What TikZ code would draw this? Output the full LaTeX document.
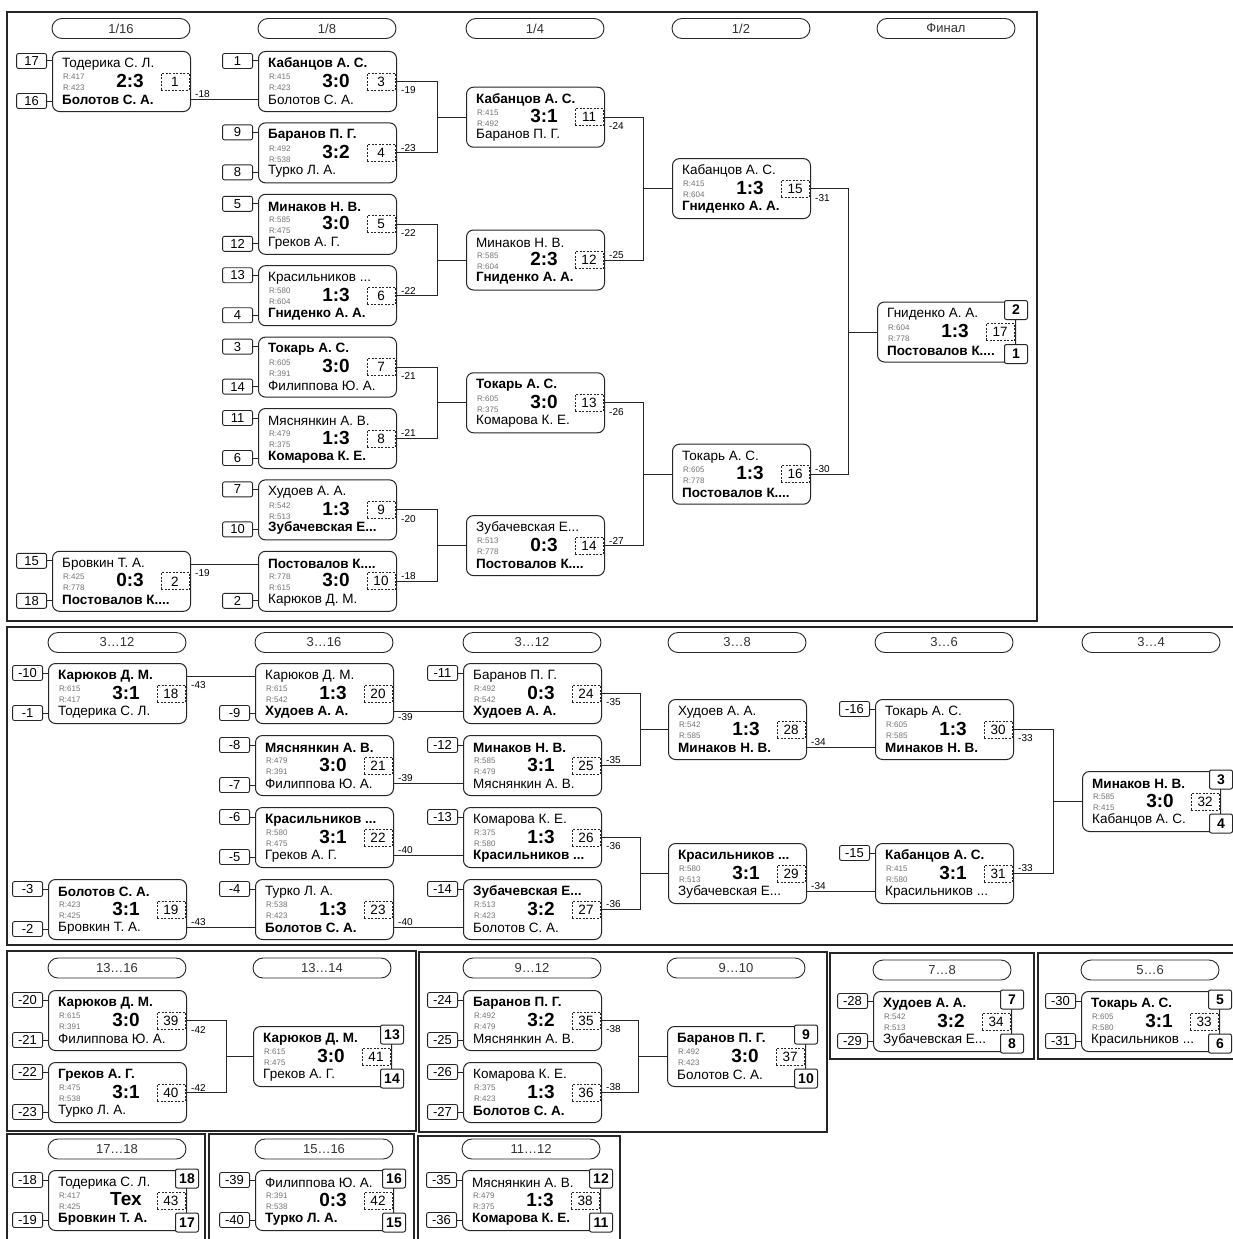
\documentclass[tikz,border=0pt]{standalone}
\usepackage{fontspec}
\setmainfont{Liberation Sans}
\definecolor{ln}{gray}{0.15}
\definecolor{rt}{gray}{0.45}
\tikzset{
 mbox/.style={draw=ln, line width=1pt, rounded corners=7pt, minimum width=138pt, minimum height=60pt, inner sep=0pt, anchor=north west, fill=white},
 nm/.style={anchor=west, inner sep=0pt, font=\fontsize{13.5}{14}\selectfont},
 rtx/.style={anchor=west, inner sep=0pt, font=\fontsize{8}{8}\selectfont, text=rt},
 sc/.style={inner sep=0pt, font=\fontsize{19}{19}\selectfont\bfseries},
 nbox/.style={draw=ln, dash pattern=on 2pt off 1.5pt, line width=0.9pt, minimum width=28pt, minimum height=17pt, inner sep=0pt, font=\fontsize{13.5}{13.5}\selectfont},
 seedbox/.style={draw=ln, line width=0.9pt, rounded corners=2pt, minimum width=30pt, minimum height=15pt, inner sep=0pt, font=\fontsize{13}{13}\selectfont, fill=white},
 placebox/.style={draw=ln, line width=1pt, rounded corners=2pt, minimum width=23pt, minimum height=19pt, inner sep=0pt, font=\fontsize{14}{14}\selectfont\bfseries, fill=white},
 pill/.style={draw=ln, line width=0.9pt, rounded corners=10pt, minimum width=138pt, minimum height=20pt, inner sep=0pt, font=\fontsize{13}{13}\selectfont, text=black!80},
 lbl/.style={anchor=west, inner sep=0pt, font=\fontsize{10}{10}\selectfont},
 conn/.style={draw=ln, line width=1pt},
 frm/.style={draw=ln, line width=1.2pt},
}
\newcommand\bn[1]{\textbf{#1}}
% id, x, y, topname, r1, score, r2, botname, number
\newcommand\Match[9]{%
 \node[mbox] (#1) at (#2,#3) {};
 \node[nm] (#1-a) at ([xshift=10pt,yshift=-13pt]#1.north west) {#4};
 \node[rtx] (#1-r) at ([xshift=11pt,yshift=-26pt]#1.north west) {R:#5};
 \node[sc] (#1-s) at ([xshift=78pt,yshift=-29.5pt]#1.north west) {#6};
 \node[rtx] (#1-q) at ([xshift=11pt,yshift=-37pt]#1.north west) {R:#7};
 \node[nm] (#1-b) at ([xshift=10pt,yshift=-49pt]#1.north west) {#8};
 \node[nbox] (#1-n) at ([xshift=-16pt]#1.east) {#9};
}
\newcommand\Places[3]{%
 \node[placebox] (#1-pa) at ([yshift=-8.5pt]#1.north east) {#2};
 \node[placebox] (#1-pb) at ([yshift=8.5pt]#1.south east) {#3};
}
\newcommand\SeedT[2]{%
 \node[seedbox, anchor=east] (#1-st) at ([xshift=-5pt,yshift=-10pt]#1.north west) {#2};
 \draw[conn] (#1-st.east) -- (#1-st.east -| #1.west);
}
\newcommand\SeedB[2]{%
 \node[seedbox, anchor=east] (#1-sb) at ([xshift=-5pt,yshift=11pt]#1.south west) {#2};
 \draw[conn] (#1-sb.east) -- (#1-sb.east -| #1.west);
}
% upper, lower, target, junction x
\newcommand\Bracket[4]{%
 \coordinate (#3-j) at (#4,0);
 \draw[conn] (#1.east) -| (#3-j |- #3.west) -- (#3.west);
 \draw[conn] (#2.east) -| (#3-j |- #3.west);
}
\newcommand\StraightB[2]{\draw[conn] ([yshift=-18pt]#1.east) -- ([yshift=-18pt]#1.east -| #2.west);}
\newcommand\StraightT[2]{\draw[conn] ([yshift=17pt]#1.east) -- ([yshift=17pt]#1.east -| #2.west);}
\newcommand\Lbl[3]{\node[lbl] (#1-l) at ([xshift=4pt,yshift=#2]#1.east) {#3};}
\begin{document}
\begin{tikzpicture}[x=1pt,y=-1pt]
\useasboundingbox (0,0) rectangle (1233,1239);
\clip (0,0) rectangle (1233,1239);
\fill[white] (0,0) rectangle (1233,1239);
% frames
\draw[frm] (7,12) rectangle (1037,621);
\draw[frm] (7,627) rectangle (1245,945);
\draw[frm] (7,951) rectangle (416,1131);
\draw[frm] (419,952) rectangle (827,1132);
\draw[frm] (830,953) rectangle (1034,1059);
\draw[frm] (1038,953) rectangle (1245,1059);
\draw[frm] (7,1134) rectangle (205,1245);
\draw[frm] (209,1134) rectangle (414,1245);
\draw[frm] (418,1136) rectangle (620,1245);
% pills
\node[pill] (p1) at (121,28.5) {1/16};
\node[pill] (p2) at (327,28.5) {1/8};
\node[pill] (p3) at (535,28.5) {1/4};
\node[pill] (p4) at (741,28.5) {1/2};
\node[pill] (p5) at (946,28.5) {Финал};
\node[pill] (p6) at (117,642.5) {3…12};
\node[pill] (p7) at (324,642.5) {3…16};
\node[pill] (p8) at (532,642.5) {3…12};
\node[pill] (p9) at (737,642.5) {3…8};
\node[pill] (p10) at (944,642.5) {3…6};
\node[pill] (p11) at (1151,642.5) {3…4};
\node[pill] (p12) at (117,968) {13…16};
\node[pill] (p13) at (322,968) {13…14};
\node[pill] (p14) at (532,968) {9…12};
\node[pill] (p15) at (736,968) {9…10};
\node[pill] (p16) at (942,970) {7…8};
\node[pill] (p17) at (1150,970) {5…6};
\node[pill] (p18) at (117,1149) {17…18};
\node[pill] (p19) at (324,1149) {15…16};
\node[pill] (p20) at (531,1149) {11…12};
% ===== section 1 =====
\Match{M1}{52}{51}{Тодерика С. Л.}{417}{2:3}{423}{\bn{Болотов С. А.}}{1}
\Match{M2}{52}{550.8}{Бровкин Т. А.}{425}{0:3}{778}{\bn{Постовалов К....}}{2}
\Match{M3}{258}{51}{\bn{Кабанцов А. С.}}{415}{3:0}{423}{Болотов С. А.}{3}
\Match{M4}{258}{122.4}{\bn{Баранов П. Г.}}{492}{3:2}{538}{Турко Л. А.}{4}
\Match{M5}{258}{193.8}{\bn{Минаков Н. В.}}{585}{3:0}{475}{Греков А. Г.}{5}
\Match{M6}{258}{265.2}{Красильников ...}{580}{1:3}{604}{\bn{Гниденко А. А.}}{6}
\Match{M7}{258}{336.6}{\bn{Токарь А. С.}}{605}{3:0}{391}{Филиппова Ю. А.}{7}
\Match{M8}{258}{408}{Мяснянкин А. В.}{479}{1:3}{375}{\bn{Комарова К. Е.}}{8}
\Match{M9}{258}{479.4}{Худоев А. А.}{542}{1:3}{513}{\bn{Зубачевская Е...}}{9}
\Match{M10}{258}{550.8}{\bn{Постовалов К....}}{778}{3:0}{615}{Карюков Д. М.}{10}
\Match{M11}{466}{86.7}{\bn{Кабанцов А. С.}}{415}{3:1}{492}{Баранов П. Г.}{11}
\Match{M12}{466}{229.5}{Минаков Н. В.}{585}{2:3}{604}{\bn{Гниденко А. А.}}{12}
\Match{M13}{466}{372.3}{\bn{Токарь А. С.}}{605}{3:0}{375}{Комарова К. Е.}{13}
\Match{M14}{466}{515.1}{Зубачевская Е...}{513}{0:3}{778}{\bn{Постовалов К....}}{14}
\Match{M15}{672}{158.1}{Кабанцов А. С.}{415}{1:3}{604}{\bn{Гниденко А. А.}}{15}
\Match{M16}{672}{443.7}{Токарь А. С.}{605}{1:3}{778}{\bn{Постовалов К....}}{16}
\Match{M17}{877}{301.5}{Гниденко А. А.}{604}{1:3}{778}{\bn{Постовалов К....}}{17}
\Places{M17}{2}{1}
\SeedT{M1}{17}\SeedB{M1}{16}
\SeedT{M2}{15}\SeedB{M2}{18}
\SeedT{M3}{1}
\SeedT{M4}{9}\SeedB{M4}{8}
\SeedT{M5}{5}\SeedB{M5}{12}
\SeedT{M6}{13}\SeedB{M6}{4}
\SeedT{M7}{3}\SeedB{M7}{14}
\SeedT{M8}{11}\SeedB{M8}{6}
\SeedT{M9}{7}\SeedB{M9}{10}
\SeedB{M10}{2}
\StraightB{M1}{M3}
\StraightT{M2}{M10}
\Bracket{M3}{M4}{M11}{437}
\Bracket{M5}{M6}{M12}{437}
\Bracket{M7}{M8}{M13}{437}
\Bracket{M9}{M10}{M14}{437}
\Bracket{M11}{M12}{M15}{643}
\Bracket{M13}{M14}{M16}{643}
\Bracket{M15}{M16}{M17}{848}
\Lbl{M1}{-13pt}{-18}
\Lbl{M2}{8pt}{-19}
\Lbl{M3}{-9pt}{-19}
\Lbl{M4}{5pt}{-23}
\Lbl{M5}{-9pt}{-22}
\Lbl{M6}{5pt}{-22}
\Lbl{M7}{-9pt}{-21}
\Lbl{M8}{5pt}{-21}
\Lbl{M9}{-9pt}{-20}
\Lbl{M10}{5pt}{-18}
\Lbl{M11}{-9pt}{-24}
\Lbl{M12}{5pt}{-25}
\Lbl{M13}{-9pt}{-26}
\Lbl{M14}{5pt}{-27}
\Lbl{M15}{-9pt}{-31}
\Lbl{M16}{5pt}{-30}
% ===== section 2 =====
\Match{M18}{48}{663}{\bn{Карюков Д. М.}}{615}{3:1}{417}{Тодерика С. Л.}{18}
\Match{M19}{48}{879}{\bn{Болотов С. А.}}{423}{3:1}{425}{Бровкин Т. А.}{19}
\Match{M20}{255}{663}{Карюков Д. М.}{615}{1:3}{542}{\bn{Худоев А. А.}}{20}
\Match{M21}{255}{735}{\bn{Мяснянкин А. В.}}{479}{3:0}{391}{Филиппова Ю. А.}{21}
\Match{M22}{255}{807}{\bn{Красильников ...}}{580}{3:1}{475}{Греков А. Г.}{22}
\Match{M23}{255}{879}{Турко Л. А.}{538}{1:3}{423}{\bn{Болотов С. А.}}{23}
\Match{M24}{463}{663}{Баранов П. Г.}{492}{0:3}{542}{\bn{Худоев А. А.}}{24}
\Match{M25}{463}{735}{\bn{Минаков Н. В.}}{585}{3:1}{479}{Мяснянкин А. В.}{25}
\Match{M26}{463}{807}{Комарова К. Е.}{375}{1:3}{580}{\bn{Красильников ...}}{26}
\Match{M27}{463}{879}{\bn{Зубачевская Е...}}{513}{3:2}{423}{Болотов С. А.}{27}
\Match{M28}{668}{699}{Худоев А. А.}{542}{1:3}{585}{\bn{Минаков Н. В.}}{28}
\Match{M29}{668}{843}{\bn{Красильников ...}}{580}{3:1}{513}{Зубачевская Е...}{29}
\Match{M30}{875}{699}{Токарь А. С.}{605}{1:3}{585}{\bn{Минаков Н. В.}}{30}
\Match{M31}{875}{843}{\bn{Кабанцов А. С.}}{415}{3:1}{580}{Красильников ...}{31}
\Match{M32}{1082}{771}{\bn{Минаков Н. В.}}{585}{3:0}{415}{Кабанцов А. С.}{32}
\Places{M32}{3}{4}
\SeedT{M18}{-10}\SeedB{M18}{-1}
\SeedT{M19}{-3}\SeedB{M19}{-2}
\SeedB{M20}{-9}
\SeedT{M21}{-8}\SeedB{M21}{-7}
\SeedT{M22}{-6}\SeedB{M22}{-5}
\SeedT{M23}{-4}
\SeedT{M24}{-11}
\SeedT{M25}{-12}
\SeedT{M26}{-13}
\SeedT{M27}{-14}
\SeedT{M30}{-16}
\SeedT{M31}{-15}
\StraightT{M18}{M20}
\StraightB{M19}{M23}
\StraightB{M20}{M24}
\StraightB{M21}{M25}
\StraightB{M22}{M26}
\StraightB{M23}{M27}
\Bracket{M24}{M25}{M28}{640}
\Bracket{M26}{M27}{M29}{640}
\StraightB{M28}{M30}
\StraightB{M29}{M31}
\Bracket{M30}{M31}{M32}{1053}
\Lbl{M18}{8pt}{-43}
\Lbl{M19}{-13pt}{-43}
\Lbl{M20}{-24pt}{-39}
\Lbl{M21}{-13pt}{-39}
\Lbl{M22}{-13pt}{-40}
\Lbl{M23}{-13pt}{-40}
\Lbl{M24}{-9pt}{-35}
\Lbl{M25}{5pt}{-35}
\Lbl{M26}{-9pt}{-36}
\Lbl{M27}{5pt}{-36}
\Lbl{M28}{-13pt}{-34}
\Lbl{M29}{-13pt}{-34}
\Lbl{M30}{-9pt}{-33}
\Lbl{M31}{5pt}{-33}
% ===== section 3 =====
\Match{M39}{48}{990}{\bn{Карюков Д. М.}}{615}{3:0}{391}{Филиппова Ю. А.}{39}
\Match{M40}{48}{1062}{\bn{Греков А. Г.}}{475}{3:1}{538}{Турко Л. А.}{40}
\Match{M41}{253}{1026}{\bn{Карюков Д. М.}}{615}{3:0}{475}{Греков А. Г.}{41}
\Places{M41}{13}{14}
\Match{M35}{463}{990}{\bn{Баранов П. Г.}}{492}{3:2}{479}{Мяснянкин А. В.}{35}
\Match{M36}{463}{1062}{Комарова К. Е.}{375}{1:3}{423}{\bn{Болотов С. А.}}{36}
\Match{M37}{667}{1026}{\bn{Баранов П. Г.}}{492}{3:0}{423}{Болотов С. А.}{37}
\Places{M37}{9}{10}
\Match{M34}{873}{991}{\bn{Худоев А. А.}}{542}{3:2}{513}{Зубачевская Е...}{34}
\Places{M34}{7}{8}
\Match{M33}{1081}{991}{\bn{Токарь А. С.}}{605}{3:1}{580}{Красильников ...}{33}
\Places{M33}{5}{6}
\SeedT{M39}{-20}\SeedB{M39}{-21}
\SeedT{M40}{-22}\SeedB{M40}{-23}
\SeedT{M35}{-24}\SeedB{M35}{-25}
\SeedT{M36}{-26}\SeedB{M36}{-27}
\SeedT{M34}{-28}\SeedB{M34}{-29}
\SeedT{M33}{-30}\SeedB{M33}{-31}
\Bracket{M39}{M40}{M41}{226}
\Bracket{M35}{M36}{M37}{638}
\Lbl{M39}{-9pt}{-42}
\Lbl{M40}{5pt}{-42}
\Lbl{M35}{-9pt}{-38}
\Lbl{M36}{5pt}{-38}
% ===== section 4 =====
\Match{M43}{48}{1170}{Тодерика С. Л.}{417}{Тех}{425}{\bn{Бровкин Т. А.}}{43}
\Places{M43}{18}{17}
\Match{M42}{255}{1170}{Филиппова Ю. А.}{391}{0:3}{538}{\bn{Турко Л. А.}}{42}
\Places{M42}{16}{15}
\Match{M38}{462}{1170}{Мяснянкин А. В.}{479}{1:3}{375}{\bn{Комарова К. Е.}}{38}
\Places{M38}{12}{11}
\SeedT{M43}{-18}\SeedB{M43}{-19}
\SeedT{M42}{-39}\SeedB{M42}{-40}
\SeedT{M38}{-35}\SeedB{M38}{-36}
\end{tikzpicture}
\end{document}
